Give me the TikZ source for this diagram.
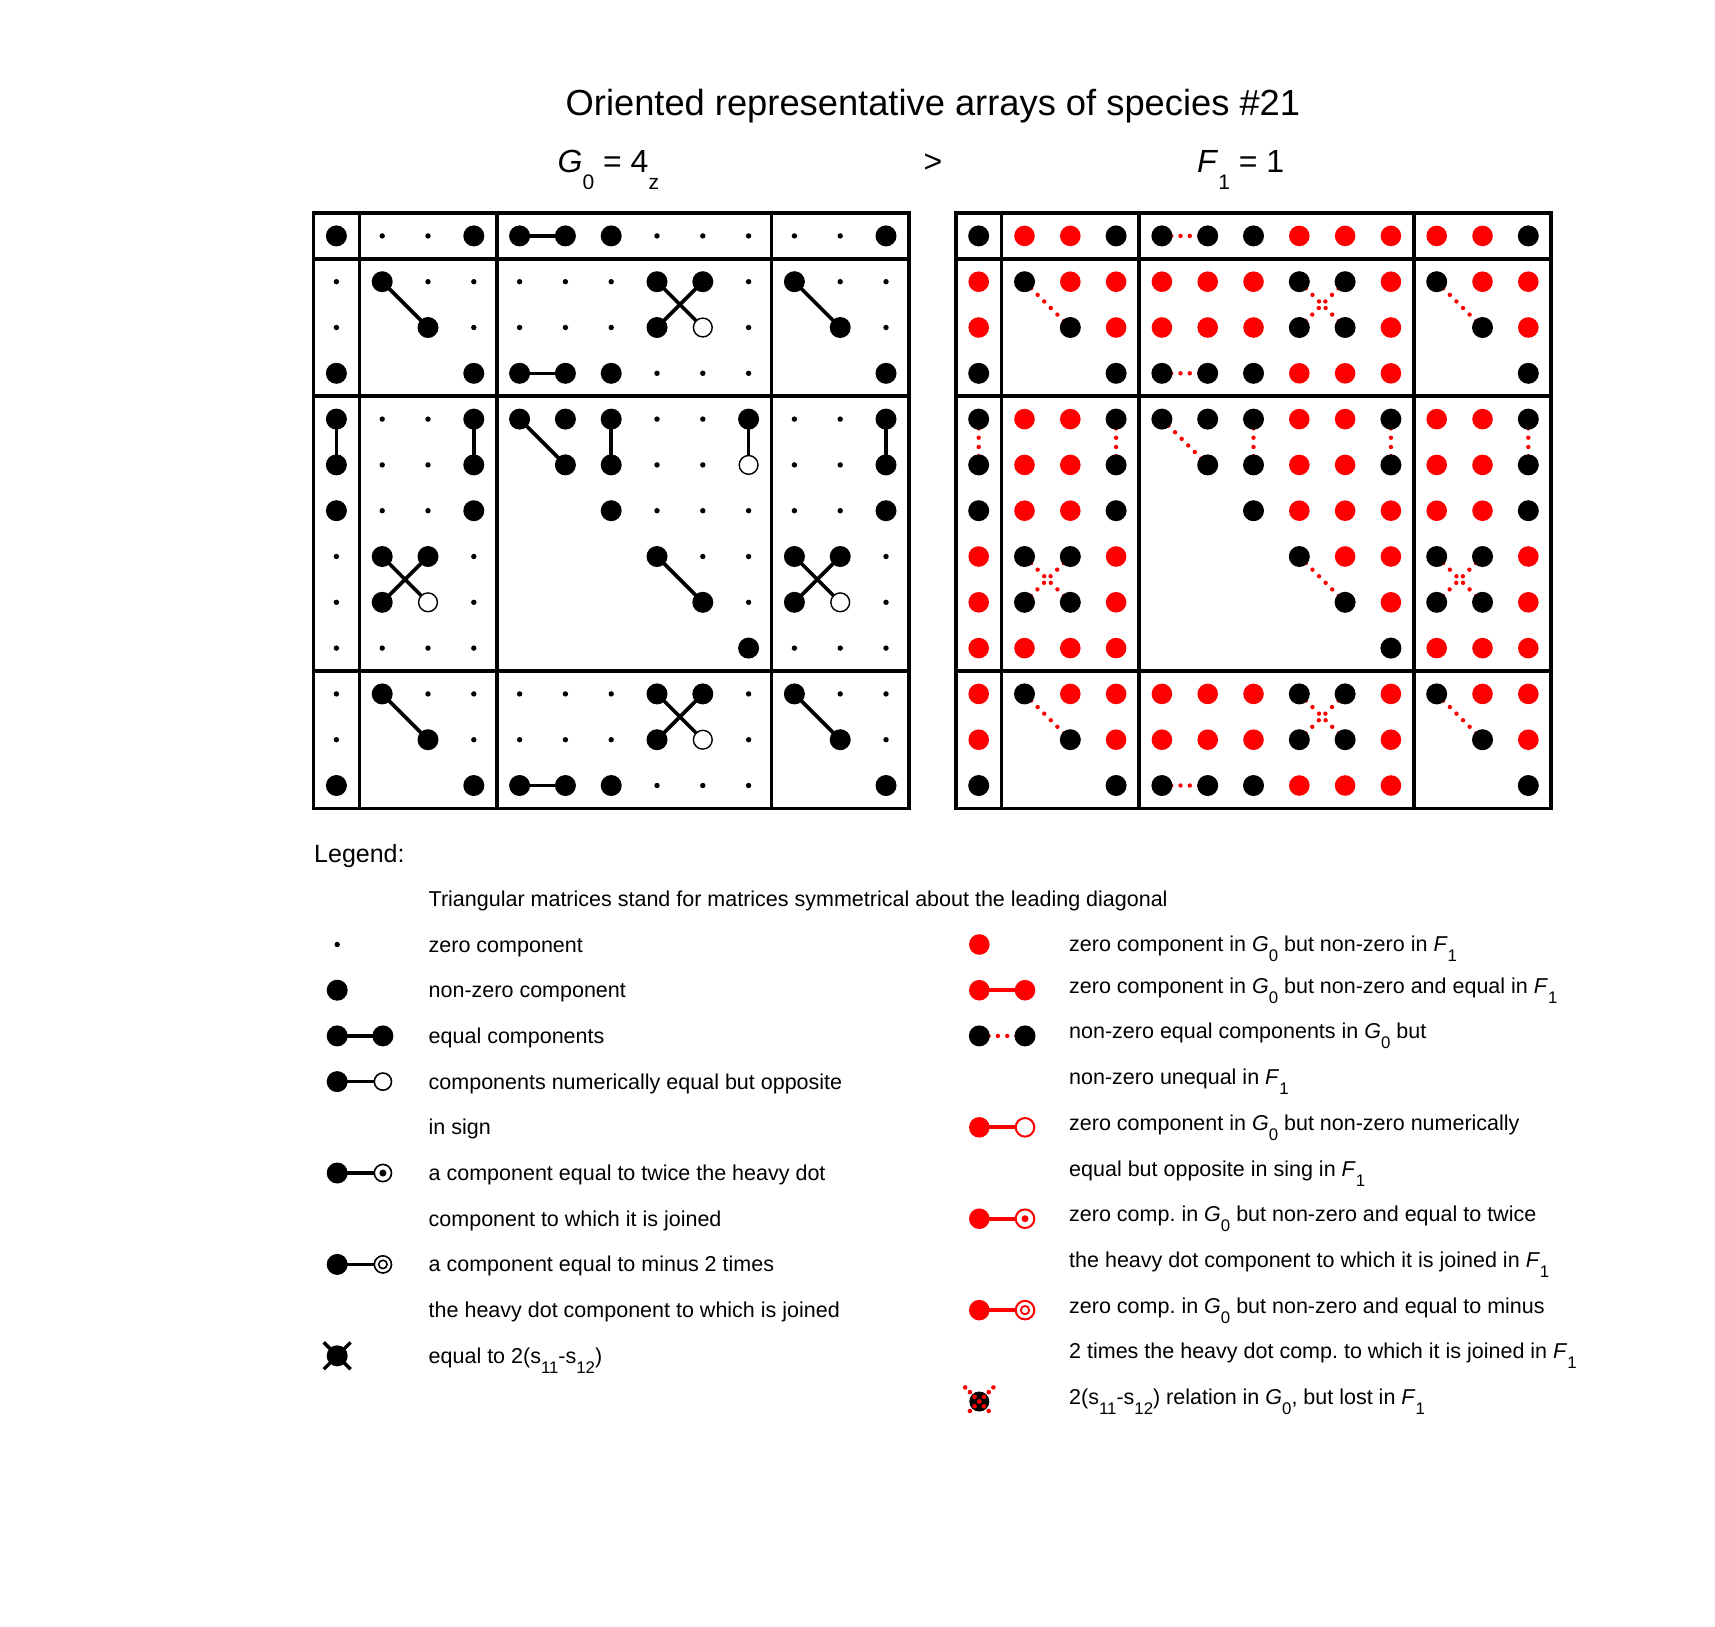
\documentclass[tikz,border=0pt]{standalone}
\usepackage{fontspec}
\setmainfont{Liberation Sans}
\usetikzlibrary{backgrounds}
\frenchspacing
\newcommand\sbs[1]{\raisebox{-10pt}{\fontsize{16.8pt}{18pt}\selectfont #1}}
\newcommand\tsb[1]{\raisebox{-17pt}{\fontsize{21pt}{24pt}\selectfont #1}}
\newcommand\Gz{\textit{G}\sbs{0}}
\newcommand\Fo{\textit{F}\sbs{1}}
\tikzset{
  bigdot/.style={circle, fill=black, inner sep=0pt, minimum size=21pt},
  smalldot/.style={circle, fill=black, inner sep=0pt, minimum size=5.4pt},
  opendot/.style={circle, draw=black, line width=1.4pt, fill=white, inner sep=0pt, minimum size=18.8pt},
  reddot/.style={circle, fill=red, inner sep=0pt, minimum size=20.6pt},
  LB/.style=bigdot, Ls/.style=smalldot, LO/.style=opendot, Ln/.style=coordinate,
  RB/.style=bigdot, Rs/.style=reddot, RO/.style=bigdot, Rn/.style=coordinate,
  gridline/.style={line width=3.6pt, line cap=rect},
  conn/.style={line width=3.6pt},
  rconn/.style={red, line width=4.4pt, line cap=round, dash pattern=on 0pt off 9.3pt},
  lring/.style={circle, draw=black, line width=1.6pt, fill=white, inner sep=0pt, minimum size=17.2pt},
  lindot/.style={circle, fill=black, inner sep=0pt, minimum size=7pt},
  linring/.style={circle, draw=black, line width=1.6pt, inner sep=0pt, minimum size=8.4pt},
  rring/.style={circle, draw=red, line width=2pt, fill=white, inner sep=0pt, minimum size=18.6pt},
  rindot/.style={circle, fill=red, inner sep=0pt, minimum size=7pt},
  rinring/.style={circle, draw=red, line width=1.8pt, inner sep=0pt, minimum size=8.4pt},
  lconn/.style={line width=3.3pt},
  rlconn/.style={red, line width=3.8pt},
  xline/.style={line width=3.4pt},
  xdots/.style={red, line width=4.6pt, line cap=round, dash pattern=on 0pt off 6.65pt},
  lgtext/.style={inner sep=0pt, anchor=base west, font=\fontsize{21.5pt}{26pt}\selectfont},
  head/.style={inner sep=0pt, anchor=base west, font=\fontsize{32pt}{38pt}\selectfont},
}
\def\Gdata{1/{B,s,s,B,B,B,B,s,s,s,s,s,B},
2/{s,B,s,s,s,s,s,B,B,s,B,s,s},
3/{s,n,B,s,s,s,s,B,O,s,n,B,s},
4/{B,n,n,B,B,B,B,s,s,s,n,n,B},
5/{B,s,s,B,B,B,B,s,s,B,s,s,B},
6/{B,s,s,B,n,B,B,s,s,O,s,s,B},
7/{B,s,s,B,n,n,B,s,s,s,s,s,B},
8/{s,B,B,s,n,n,n,B,s,s,B,B,s},
9/{s,B,O,s,n,n,n,n,B,s,B,O,s},
10/{s,s,s,s,n,n,n,n,n,B,s,s,s},
11/{s,B,s,s,s,s,s,B,B,s,B,s,s},
12/{s,n,B,s,s,s,s,B,O,s,n,B,s},
13/{B,n,n,B,B,B,B,s,s,s,n,n,B}}
\def\Gconn{1/5/1/6, 4/5/4/6, 13/5/13/6, 2/2/3/3, 2/11/3/12, 11/2/12/3, 11/11/12/12,
2/8/3/9, 2/9/3/8, 11/8/12/9, 11/9/12/8, 5/1/6/1, 5/4/6/4, 5/5/6/6, 5/7/6/7,
5/10/6/10, 5/13/6/13, 8/2/9/3, 8/3/9/2, 8/11/9/12, 8/12/9/11, 8/8/9/9}
\begin{document}
\begin{tikzpicture}[x=1pt, y=-1pt]
\useasboundingbox (0,0) rectangle (1715,1626);
\begin{pgfonlayer}{background}
\fill[white] (0,0) rectangle (1715,1626);
\end{pgfonlayer}

% headings
\node[inner sep=0pt, anchor=base west, font=\fontsize{36.3pt}{42pt}\selectfont] (title) at (565.5,115) {Oriented representative arrays of species \#21};
\node[head] (hG) at (557.5,172) {\textit{G}\tsb{0} = 4\tsb{z}};
\node[head] (hgt) at (923.5,172) {>};
\node[head] (hF) at (1197,172.7) {\textit{F}\tsb{1} = 1};

% left array G0
\begin{scope}[shift={(313.5,213)}, x=45.8pt, y=-45.8pt]
  \draw[gridline] (0,0) rectangle (13,13);
  \foreach \v in {1,4,10} {
    \draw[gridline] (\v,0) -- (\v,13);
    \draw[gridline] (0,\v) -- (13,\v);
  }
  \foreach \r/\row in \Gdata {
    \foreach \t [count=\c] in \row {
      \edef\mk{\noexpand\node[L\t] (L-\r-\c) at (\c-0.5,\r-0.5) {};}
      \mk
    }
  }
\end{scope}

% right array F1
\begin{scope}[shift={(955.8,213)}, x=45.8pt, y=-45.8pt]
  \draw[gridline] (0,0) rectangle (13,13);
  \foreach \v in {1,4,10} {
    \draw[gridline] (\v,0) -- (\v,13);
    \draw[gridline] (0,\v) -- (13,\v);
  }
  \foreach \r/\row in \Gdata {
    \foreach \t [count=\c] in \row {
      \edef\mk{\noexpand\node[R\t] (R-\r-\c) at (\c-0.5,\r-0.5) {};}
      \mk
    }
  }
\end{scope}

\begin{pgfonlayer}{background}
  \foreach \a/\b/\c/\d in \Gconn {
    \draw[conn] (L-\a-\b.center) -- (L-\c-\d.center);
    \draw[rconn] (R-\a-\b.center) -- (R-\c-\d.center);
  }
\end{pgfonlayer}

% legend heading
\node[inner sep=0pt, anchor=base west, font=\fontsize{25pt}{30pt}\selectfont] (leg) at (314,862) {Legend:};

% left legend symbols
\node[smalldot] (l0) at (337.2,944.5) {};
\node[bigdot] (l1) at (337.2,990.2) {};
\node[bigdot] (l2a) at (337.2,1035.9) {};
\node[bigdot] (l2b) at (382.9,1035.9) {};
\node[bigdot] (l3a) at (337.2,1081.6) {};
\node[lring] (l3b) at (382.9,1081.6) {};
\node[bigdot] (l5a) at (337.2,1173.0) {};
\node[lring] (l5b) at (382.9,1173.0) {};
\node[lindot] (l5c) at (l5b.center) {};
\node[bigdot] (l7a) at (337.2,1264.4) {};
\node[lring] (l7b) at (382.9,1264.4) {};
\node[linring] (l7c) at (l7b.center) {};
\node[bigdot] (l9) at (337.2,1355.8) {};
\coordinate (l9a) at (323.8,1342.4);
\coordinate (l9b) at (350.6,1369.2);
\coordinate (l9c) at (350.6,1342.4);
\coordinate (l9d) at (323.8,1369.2);
\draw[xline] (l9a) -- (l9b);
\draw[xline] (l9c) -- (l9d);
\begin{pgfonlayer}{background}
  \draw[lconn] (l2a.center) -- (l2b.center);
  \draw[lconn] (l3a.center) -- (l3b.center);
  \draw[lconn] (l5a.center) -- (l5b.center);
  \draw[lconn] (l7a.center) -- (l7b.center);
\end{pgfonlayer}

% left legend texts
\node[lgtext] (lt-1) at (428.5,906.3) {Triangular matrices stand for matrices symmetrical about the leading diagonal};
\node[lgtext] (lt0) at (428.5,952.0) {zero component};
\node[lgtext] (lt1) at (428.5,997.7) {non-zero component};
\node[lgtext] (lt2) at (428.5,1043.4) {equal components};
\node[lgtext] (lt3) at (428.5,1089.1) {components numerically equal but opposite};
\node[lgtext] (lt4) at (428.5,1134.8) {in sign};
\node[lgtext] (lt5) at (428.5,1180.5) {a component equal to twice the heavy dot};
\node[lgtext] (lt6) at (428.5,1226.2) {component to which it is joined};
\node[lgtext] (lt7) at (428.5,1271.9) {a component equal to minus 2 times};
\node[lgtext] (lt8) at (428.5,1317.6) {the heavy dot component to which is joined};
\node[lgtext] (lt9) at (428.5,1363.3) {equal to 2(s\sbs{11}-s\sbs{12})};

% right legend symbols
\node[reddot] (r0) at (979.3,944.5) {};
\node[reddot] (r1a) at (979.3,990.2) {};
\node[reddot] (r1b) at (1025.0,990.2) {};
\node[bigdot] (r2a) at (979.3,1035.9) {};
\node[bigdot] (r2b) at (1025.0,1035.9) {};
\node[reddot] (r4a) at (979.3,1127.3) {};
\node[rring] (r4b) at (1025.0,1127.3) {};
\node[reddot] (r6a) at (979.3,1218.7) {};
\node[rring] (r6b) at (1025.0,1218.7) {};
\node[rindot] (r6c) at (r6b.center) {};
\node[reddot] (r8a) at (979.3,1310.1) {};
\node[rring] (r8b) at (1025.0,1310.1) {};
\node[rinring] (r8c) at (r8b.center) {};
\node[bigdot, minimum size=20pt] (r10) at (979.3,1401.5) {};
\coordinate (r10a) at (965.2,1387.4);
\coordinate (r10b) at (993.4,1415.6);
\coordinate (r10c) at (993.4,1387.4);
\coordinate (r10d) at (965.2,1415.6);
\draw[xdots] (r10a) -- (r10b);
\draw[xdots] (r10c) -- (r10d);
\begin{pgfonlayer}{background}
  \draw[rlconn] (r1a.center) -- (r1b.center);
  \draw[rconn] (r2a.center) -- (r2b.center);
  \draw[rlconn] (r4a.center) -- (r4b.center);
  \draw[rlconn] (r6a.center) -- (r6b.center);
  \draw[rlconn] (r8a.center) -- (r8b.center);
\end{pgfonlayer}

% right legend texts
\node[lgtext] (rt0) at (1069,951.2) {zero component in \Gz{} but non-zero in \Fo};
\node[lgtext] (rt1) at (1069,993.2) {zero component in \Gz{} but non-zero and equal in \Fo};
\node[lgtext] (rt2) at (1069,1038.9) {non-zero equal components in \Gz{} but};
\node[lgtext] (rt3) at (1069,1084.6) {non-zero unequal in \Fo};
\node[lgtext] (rt4) at (1069,1130.3) {zero component in \Gz{} but non-zero numerically};
\node[lgtext] (rt5) at (1069,1176.0) {equal but opposite in sing in \Fo};
\node[lgtext] (rt6) at (1069,1221.7) {zero comp. in \Gz{} but non-zero and equal to twice};
\node[lgtext] (rt7) at (1069,1267.4) {the heavy dot component to which it is joined in \Fo};
\node[lgtext] (rt8) at (1069,1313.1) {zero comp. in \Gz{} but non-zero and equal to minus};
\node[lgtext] (rt9) at (1069,1358.8) {2 times the heavy dot comp. to which it is joined in \Fo};
\node[lgtext] (rt10) at (1069,1404.5) {2(s\sbs{11}-s\sbs{12}) relation in \Gz, but lost in \Fo};
\end{tikzpicture}
\end{document}
